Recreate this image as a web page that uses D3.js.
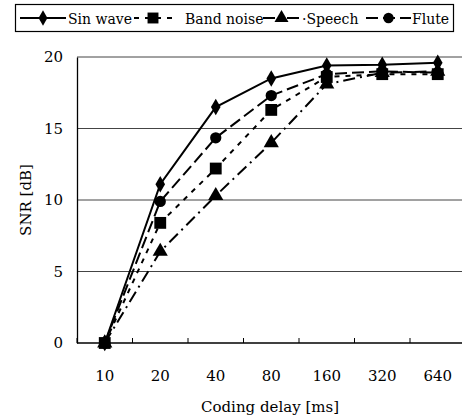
<!DOCTYPE html>
<html>
<head>
<meta charset="utf-8">
<script src="https://cdn.jsdelivr.net/npm/d3@7"></script>
<style>
  body { margin: 0; background: #fff; }
</style>
</head>
<body>
<svg id="chart"></svg>
<script>
// chart data
var delays = ["10", "20", "40", "80", "160", "320", "640"];
var yTicks = [0, 5, 10, 15, 20];
var sinWave = [0, 11.1, 16.5, 18.5, 19.4, 19.45, 19.6];
var bandNoise = [0, 8.4, 12.2, 16.3, 18.6, 18.8, 18.8];
var speech = [0, 6.4, 10.3, 14.0, 18.1, 18.9, 19.0];
var flute = [0, 9.9, 14.35, 17.3, 18.8, 19.0, 18.9];

var FONT = "'DejaVu Serif', serif";

function drawChart() {
  var W = 462, H = 419;
  var margin = {top: 57, left: 77},
      bandW = 55.5,
      width = bandW * delays.length,
      height = 343 - margin.top;

  var svg = d3.select("#chart").attr("width", W).attr("height", H);

  var x = d3.scaleBand().domain(delays).range([0, width]).padding(0);
  var y = d3.scaleLinear().domain([0, 20]).range([height, 0]);

  var g = svg.append("g")
      .attr("transform", "translate(" + margin.left + "," + margin.top + ")");

  // gridlines
  g.selectAll(".grid")
      .data(yTicks.filter(function(d) { return d > 0; }))
    .enter().append("line")
      .attr("x1", 0).attr("x2", width)
      .attr("y1", function(d) { return y(d); })
      .attr("y2", function(d) { return y(d); })
      .attr("stroke", "#444").attr("stroke-width", 1);

  // y axis
  var yAxis = d3.axisLeft(y).tickValues(yTicks).tickSize(0).tickPadding(14);
  var ya = g.append("g").call(yAxis);
  ya.select(".domain").attr("stroke", "#000").attr("stroke-width", 1.3);

  // x axis, ticks point up between the categories
  var xa = g.append("g").attr("transform", "translate(0," + height + ")");
  xa.append("line").attr("x1", 0).attr("x2", width).attr("stroke", "#000").attr("stroke-width", 1.3);
  xa.selectAll(".tk")
      .data(delays)
    .enter().append("line")
      .attr("x1", function(d) { return x(d); })
      .attr("x2", function(d) { return x(d); })
      .attr("y1", 0).attr("y2", -5)
      .attr("stroke", "#000");
  xa.selectAll(".lbl")
      .data(delays)
    .enter().append("text")
      .attr("x", function(d) { return x(d) + x.bandwidth() / 2; })
      .attr("y", 38)
      .attr("text-anchor", "middle")
      .text(function(d) { return d; });

  // axis titles
  svg.append("text")
      .attr("x", 270).attr("y", 412)
      .attr("text-anchor", "middle")
      .text("Coding delay [ms]");
  svg.append("text")
      .attr("transform", "translate(31,200) rotate(-90)")
      .attr("text-anchor", "middle")
      .text("SNR [dB]");

  svg.selectAll("text")
      .attr("font-family", FONT).style("font-family", FONT)
      .style("font-size", "15px").attr("fill", "#000");

  var styles = [
    {values: sinWave, dash: null, symbol: d3.symbolDiamond, size: 80},
    {values: bandNoise, dash: "5,6", symbol: d3.symbolSquare, size: 140},
    {values: speech, dash: "12,5,2,5", symbol: d3.symbolTriangle, size: 100},
    {values: flute, dash: "12,5", symbol: d3.symbolCircle, size: 100}
  ];

  var line = d3.line()
      .x(function(d, i) { return x(delays[i]) + x.bandwidth() / 2; })
      .y(function(d) { return y(d); });

  // draw order: speech, flute, sin wave, band noise on top
  [2, 3, 0, 1].forEach(function(k) {
    var s = styles[k];
    g.append("path")
        .attr("d", line(s.values))
        .attr("fill", "none")
        .attr("stroke", "#000")
        .attr("stroke-width", 2)
        .attr("stroke-dasharray", s.dash);
    g.selectAll(null)
        .data(s.values)
      .enter().append("path")
        .attr("d", d3.symbol().type(s.symbol).size(s.size))
        .attr("transform", function(d, i) {
          return "translate(" + (x(delays[i]) + x.bandwidth() / 2) + "," + y(d) + ")";
        })
        .attr("fill", "#000");
  });

  // legend
  var lg = svg.append("g");
  lg.append("rect")
      .attr("x", 15.5).attr("y", 4.5).attr("width", 438).attr("height", 27)
      .attr("fill", "#fff").attr("stroke", "#000").attr("stroke-width", 1.2);

  var legendPos = [
    {x1: 20, x2: 66, tx: 68},
    {x1: 134, x2: 172, tx: 185},
    {x1: 263, x2: 300, tx: 302},
    {x1: 366, x2: 411, tx: 412}
  ];
  var legendText = ["Sin wave", "Band noise", "\u00b7Speech", "Flute"];

  styles.forEach(function(s, i) {
    var p = legendPos[i];
    lg.append("line")
        .attr("x1", p.x1).attr("x2", p.x2).attr("y1", 18).attr("y2", 18)
        .attr("stroke", "#000").attr("stroke-width", 2)
        .attr("stroke-dasharray", s.dash);
    lg.append("path")
        .attr("d", d3.symbol().type(s.symbol).size(s.size * 0.85))
        .attr("transform", "translate(" + ((p.x1 + p.x2) / 2) + ",18)")
        .attr("fill", "#000");
    lg.append("text")
        .attr("x", p.tx).attr("y", 23.5)
        .attr("font-family", FONT).style("font-family", FONT)
        .style("font-size", "14px").attr("fill", "#000")
        .text(legendText[i]);
  });
}

drawChart();
</script>
</body>
</html>
